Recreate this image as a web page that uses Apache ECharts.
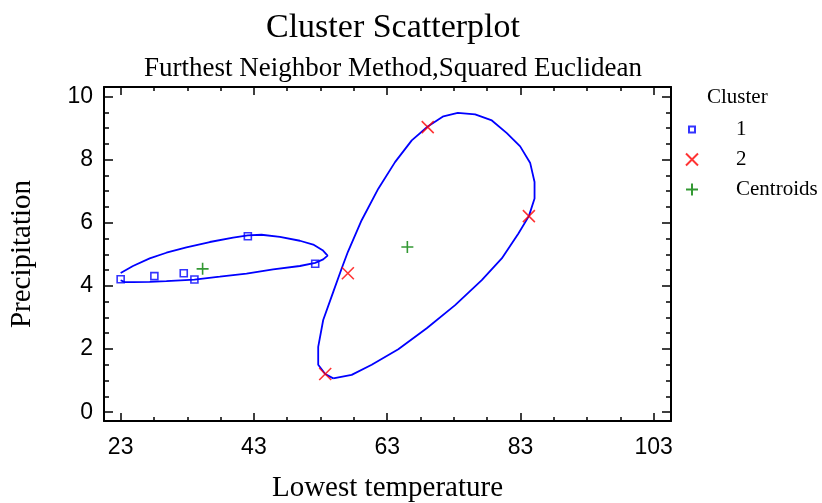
<!DOCTYPE html>
<html>
<head>
<meta charset="utf-8">
<script src="https://cdn.jsdelivr.net/npm/echarts@6/dist/echarts.min.js"></script>
<style>
html,body{margin:0;padding:0;background:#fff;}
#chart{width:822px;height:503px;}
</style>
</head>
<body>
<div id="chart"></div>
<script>
// ---- data ----
var cluster1 = [[23.0,4.21],[28.06,4.31],[32.47,4.40],[34.07,4.20],[42.09,5.57],[52.2,4.70]];
var cluster2 = [[69.09,9.03],[84.27,6.21],[57.1,4.40],[53.7,1.21]];
var centroids = [[35.3,4.54],[66.03,5.23]];
var contour1 = [[23.0,4.18],[23.6,4.12],[24.85,4.12],[27.36,4.13],[29.87,4.15],[34.07,4.20],[37.88,4.29],[41.89,4.39],[45.89,4.52],[49.9,4.63],[52.2,4.73],[53.4,4.84],[54.06,4.96],[53.31,5.13],[51.9,5.31],[49.9,5.43],[46.9,5.55],[44.14,5.62],[42.09,5.60],[39.88,5.53],[36.38,5.39],[32.87,5.22],[29.87,5.05],[27.36,4.87],[24.85,4.63],[23.0,4.41]];
var contour2 = [[54.91,1.07],[57.67,1.18],[60.68,1.50],[64.67,1.99],[68.94,2.66],[73.2,3.39],[77.2,4.18],[80.2,4.87],[82.7,5.66],[84.27,6.21],[85.12,6.77],[85.12,7.29],[84.47,7.89],[82.96,8.42],[80.96,8.84],[78.71,9.24],[76.2,9.43],[73.6,9.48],[71.44,9.37],[69.09,9.05],[66.69,8.61],[64.18,7.92],[61.67,7.08],[59.17,6.08],[57.11,5.08],[56.17,4.55],[54.91,3.81],[53.4,2.92],[52.65,2.07],[52.65,1.50],[53.7,1.21],[54.91,1.07]];
var xMajorTicks = [23,43,63,83,103];
var xMinorTicks = [23,28,33,38,43,48,53,58,63,68,73,78,83,88,93,98,103];
var yMajorTicks = [0,2,4,6,8,10];
var yMinorTicks = [0,0.5,1,1.5,2,2.5,3,3.5,4,4.5,5,5.5,6,6.5,7,7.5,8,8.5,9,9.5,10];
var legendNames = ['1','2','Centroids'];
var xRange = [20.5, 105.6];
var yRange = [-0.28, 10.3];

var serif = '"Liberation Serif","Times New Roman",serif';
var sans = '"Liberation Sans",Arial,sans-serif';

function xAx(pos, major, showLine, showLabel) {
  return {
    type:'value', position:pos, min:xRange[0], max:xRange[1],
    splitLine:{show:false},
    axisLine:{show:showLine, onZero:false, lineStyle:{color:'#000', width:2}},
    axisTick:{show:true, inside:true, customValues: major ? xMajorTicks : xMinorTicks,
      length: major ? 8 : 4, lineStyle:{color:'#000', width:1.5}},
    axisLabel:{show:showLabel, customValues:xMajorTicks, margin:15,
      color:'#000', fontFamily:sans, fontSize:23},
    name: showLabel ? 'Lowest temperature' : '',
    nameLocation:'middle', nameGap:53,
    nameTextStyle:{color:'#000', fontFamily:serif, fontSize:29}
  };
}
function yAx(pos, major, showLine, showLabel) {
  return {
    type:'value', position:pos, min:yRange[0], max:yRange[1],
    splitLine:{show:false},
    axisLine:{show:showLine, onZero:false, lineStyle:{color:'#000', width:2}},
    axisTick:{show:true, inside:true, customValues: major ? yMajorTicks : yMinorTicks,
      length: major ? 9 : 5, lineStyle:{color:'#000', width:1.5}},
    axisLabel:{show:showLabel, customValues:yMajorTicks, margin:11,
      color:'#000', fontFamily:sans, fontSize:23},
    name: showLabel ? 'Precipitation' : '',
    nameLocation:'middle', nameGap:67,
    nameTextStyle:{color:'#000', fontFamily:serif, fontSize:29}
  };
}

var chart = echarts.init(document.getElementById('chart'), null, {renderer:'canvas'});
chart.setOption({
  animation:false,
  backgroundColor:'#fff',
  title:[
    {text:'Cluster Scatterplot', left:388, top:6, textAlign:'center',
      textStyle:{color:'#000', fontFamily:serif, fontSize:34, fontWeight:'normal'}},
    {text:'Furthest Neighbor Method,Squared Euclidean', left:388, top:50, textAlign:'center',
      textStyle:{color:'#000', fontFamily:serif, fontSize:27, fontWeight:'normal'}},
    {text:'Cluster', left:702, top:82,
      textStyle:{color:'#000', fontFamily:serif, fontSize:21, fontWeight:'normal'}}
  ],
  legend:{
    data:[
      {name:legendNames[0], icon:'path://M0,0M12,12M3,3L9,3L9,9L3,9Z'},
      {name:legendNames[1], icon:'path://M0,0L12,12M12,0L0,12'},
      {name:legendNames[2], icon:'path://M6,0L6,12M0,6L12,6'}
    ],
    orient:'vertical', left:680, top:114,
    itemWidth:12, itemHeight:12, itemGap:9,
    textStyle:{color:'#000', fontFamily:serif, fontSize:21, padding:[0,0,0,33]}
  },
  grid:{left:104, right:151, top:87, bottom:82, containLabel:false, outerBoundsMode:'none'},
  xAxis:[xAx('bottom',true,true,true), xAx('bottom',false,false,false), xAx('top',true,true,false), xAx('top',false,false,false)],
  yAxis:[yAx('left',true,true,true), yAx('left',false,false,false), yAx('right',true,true,false), yAx('right',false,false,false)],
  series:[
    {name:'contour1', type:'line', data:contour1, showSymbol:false, symbol:'none', smooth:false,
      lineStyle:{color:'#0000ff', width:1.8}, z:2},
    {name:'contour2', type:'line', data:contour2, showSymbol:false, symbol:'none', smooth:false,
      lineStyle:{color:'#0000ff', width:1.8}, z:2},
    {name:'1', type:'scatter', data:cluster1, symbol:'rect', symbolSize:7,
      itemStyle:{color:'rgba(255,255,255,0)', borderColor:'#0000ff', borderWidth:1.6}, z:3},
    {name:'2', type:'scatter', data:cluster2, symbol:'path://M0,0L10,10M10,0L0,10', symbolSize:12,
      itemStyle:{color:'rgba(255,255,255,0)', borderColor:'#ff0000', borderWidth:1.6}, z:3},
    {name:'Centroids', type:'scatter', data:centroids, symbol:'path://M5,0L5,10M0,5L10,5', symbolSize:12,
      itemStyle:{color:'rgba(255,255,255,0)', borderColor:'#008000', borderWidth:1.6}, z:3}
  ]
});
</script>
</body>
</html>
